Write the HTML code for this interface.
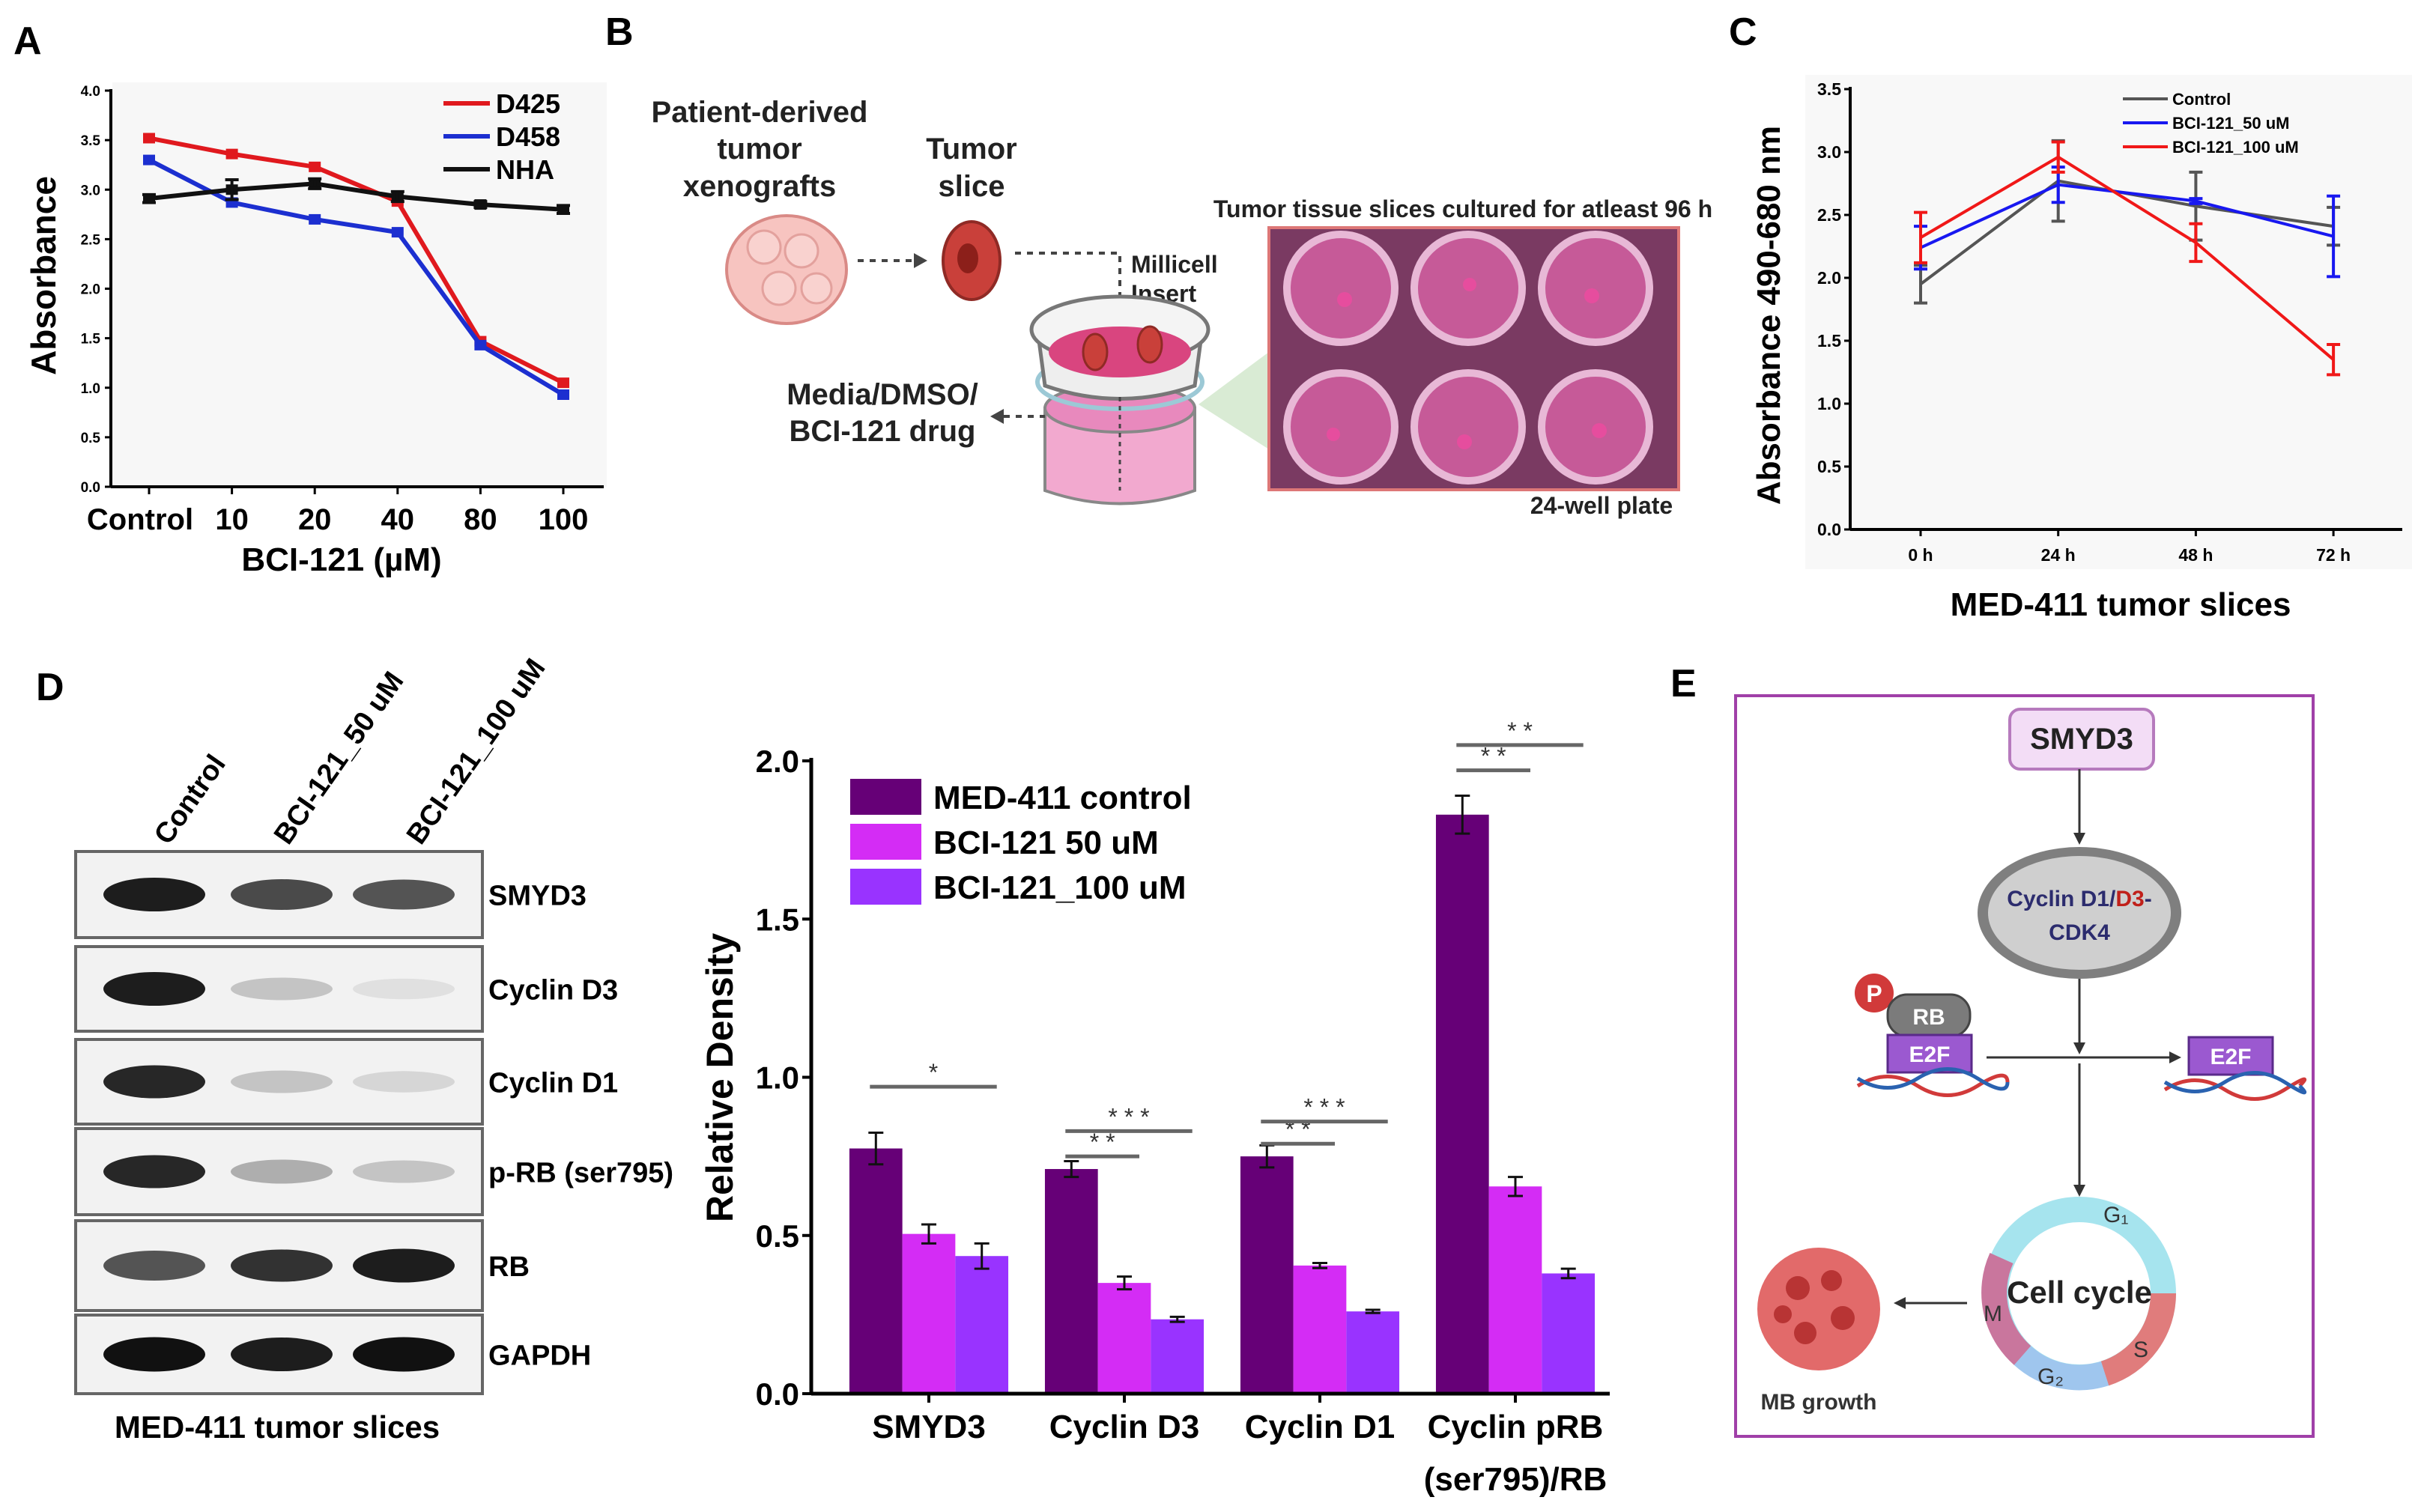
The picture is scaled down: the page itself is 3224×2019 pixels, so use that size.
<!DOCTYPE html>
<html><head><meta charset="utf-8"><title>Figure</title>
<style>
html,body{margin:0;padding:0;background:#fff;}
svg{display:block;font-family:"Liberation Sans",sans-serif;}
.b{font-weight:bold;}
</style></head>
<body>
<svg id="fig" width="3224" height="2019" viewBox="0 0 3224 2019" xmlns="http://www.w3.org/2000/svg">
<rect width="3224" height="2019" fill="#fff"/>
<text x="18" y="72" font-size="52" class="b">A</text>
<text x="808" y="60" font-size="52" class="b">B</text>
<text x="2308" y="60" font-size="52" class="b">C</text>
<text x="48" y="935" font-size="52" class="b">D</text>
<text x="2230" y="930" font-size="52" class="b">E</text>

<g id="chartA"></g>
<g id="chartC"></g>
<g id="chartD"></g>

<g font-weight="bold" fill="#222">
  <text x="1014" y="163" font-size="40" text-anchor="middle">Patient-derived</text>
  <text x="1014" y="212" font-size="40" text-anchor="middle">tumor</text>
  <text x="1014" y="262" font-size="40" text-anchor="middle">xenografts</text>
  <text x="1297" y="212" font-size="40" text-anchor="middle">Tumor</text>
  <text x="1297" y="262" font-size="40" text-anchor="middle">slice</text>
  <text x="1953" y="290" font-size="32" text-anchor="middle">Tumor tissue slices cultured for atleast 96 h</text>
  <text x="1510" y="364" font-size="32">Millicell</text>
  <text x="1510" y="403" font-size="32">Insert</text>
  <text x="1178" y="540" font-size="40" text-anchor="middle">Media/DMSO/</text>
  <text x="1178" y="589" font-size="40" text-anchor="middle">BCI-121 drug</text>
  <text x="2138" y="686" font-size="32" text-anchor="middle">24-well plate</text>
  <g>
    <ellipse cx="1050" cy="360" rx="80" ry="72" fill="#f7c4c0" stroke="#d98a86" stroke-width="4"/>
    <circle cx="1020" cy="330" r="22" fill="#f9d2cf" stroke="#e3a19d" stroke-width="3"/>
    <circle cx="1070" cy="335" r="22" fill="#f9d2cf" stroke="#e3a19d" stroke-width="3"/>
    <circle cx="1040" cy="385" r="22" fill="#f9d2cf" stroke="#e3a19d" stroke-width="3"/>
    <circle cx="1090" cy="385" r="20" fill="#f9d2cf" stroke="#e3a19d" stroke-width="3"/>
  </g>
  <line x1="1145" y1="348" x2="1220" y2="348" stroke="#444" stroke-width="4" stroke-dasharray="8,8"/>
  <polygon points="1220,338 1238,348 1220,358" fill="#444"/>
  <g>
    <ellipse cx="1297" cy="348" rx="38" ry="52" fill="#c9403a" stroke="#8f2a25" stroke-width="4"/>
    <ellipse cx="1292" cy="345" rx="14" ry="20" fill="#8c1f1a"/>
  </g>
  <polyline points="1355,338 1495,338 1495,420" fill="none" stroke="#444" stroke-width="4" stroke-dasharray="8,8"/>
  <g>
    <path d="M1395,545 L1395,655 Q1495,690 1595,655 L1595,545 Z" fill="#f2a9cf" stroke="#888" stroke-width="4"/>
    <ellipse cx="1495" cy="545" rx="100" ry="32" fill="#e889bd" stroke="#888" stroke-width="4"/>
    <ellipse cx="1495" cy="510" rx="110" ry="36" fill="none" stroke="#9cc9d6" stroke-width="6"/>
    <path d="M1385,440 L1395,515 Q1495,550 1595,515 L1605,440" fill="#eee" stroke="#777" stroke-width="5"/>
    <ellipse cx="1495" cy="440" rx="118" ry="44" fill="#f4f4f4" stroke="#777" stroke-width="5"/>
    <ellipse cx="1495" cy="470" rx="95" ry="34" fill="#d9457f"/>
    <ellipse cx="1462" cy="470" rx="16" ry="24" fill="#c9403a" stroke="#8f2a25" stroke-width="3"/>
    <ellipse cx="1535" cy="460" rx="16" ry="24" fill="#c9403a" stroke="#8f2a25" stroke-width="3"/>
    <line x1="1495" y1="530" x2="1495" y2="655" stroke="#444" stroke-width="3" stroke-dasharray="6,6"/>
  </g>
  <line x1="1340" y1="556" x2="1395" y2="556" stroke="#444" stroke-width="4" stroke-dasharray="8,8"/>
  <polygon points="1340,546 1322,556 1340,566" fill="#444"/>
  <polygon points="1600,540 1694,470 1694,600" fill="#cfe6c9" opacity="0.8"/>
  <g>
    <rect x="1694" y="304" width="547" height="350" fill="#7a3a62" stroke="#d77" stroke-width="4"/>
    <g fill="#c65a98" stroke="#e8b8d6" stroke-width="10">
      <circle cx="1790" cy="385" r="72"/><circle cx="1960" cy="385" r="72"/><circle cx="2130" cy="385" r="72"/>
      <circle cx="1790" cy="570" r="72"/><circle cx="1960" cy="570" r="72"/><circle cx="2130" cy="570" r="72"/>
    </g>
    <g fill="#e64d9e"><circle cx="1795" cy="400" r="10"/><circle cx="1962" cy="380" r="9"/><circle cx="2125" cy="395" r="10"/><circle cx="1780" cy="580" r="9"/><circle cx="1955" cy="590" r="10"/><circle cx="2135" cy="575" r="10"/></g>
  </g>
</g>

<g>
  <g font-size="38" font-weight="bold">
    <text transform="translate(225,1130) rotate(-55)">Control</text>
    <text transform="translate(385,1130) rotate(-55)">BCI-121_50 uM</text>
    <text transform="translate(562,1130) rotate(-55)">BCI-121_100 uM</text>
  </g>
  <g id="blots"></g>
  <text x="370" y="1920" font-size="42" font-weight="bold" text-anchor="middle">MED-411 tumor slices</text>
</g>

<g>
  <rect x="2317" y="929" width="771" height="989" fill="#fff" stroke="#a040a8" stroke-width="4"/>
  <rect x="2683" y="947" width="192" height="80" rx="14" fill="#f3ddf6" stroke="#b67abd" stroke-width="4"/>
  <text x="2779" y="1000" font-size="40" font-weight="bold" text-anchor="middle" fill="#222">SMYD3</text>
  <line x1="2776" y1="1027" x2="2776" y2="1118" stroke="#333" stroke-width="3"/>
  <polygon points="2768,1112 2776,1128 2784,1112" fill="#333"/>
  <ellipse cx="2776" cy="1219" rx="136" ry="88" fill="#7f7f7f"/>
  <ellipse cx="2776" cy="1219" rx="122" ry="76" fill="#cfcfcf"/>
  <text x="2776" y="1210" font-size="30" font-weight="bold" text-anchor="middle" fill="#2c2c6e">Cyclin D1/<tspan fill="#c0201a">D3</tspan>-</text>
  <text x="2776" y="1255" font-size="30" font-weight="bold" text-anchor="middle" fill="#2c2c6e">CDK4</text>
  <line x1="2776" y1="1307" x2="2776" y2="1398" stroke="#333" stroke-width="3"/>
  <polygon points="2768,1392 2776,1408 2784,1392" fill="#333"/>
  <circle cx="2502" cy="1326" r="26" fill="#d13a3a"/>
  <text x="2502" y="1338" font-size="32" font-weight="bold" fill="#fff" text-anchor="middle">P</text>
  <rect x="2520" y="1328" width="110" height="56" rx="26" fill="#7b7b7b" stroke="#444" stroke-width="3"/>
  <text x="2575" y="1368" font-size="30" font-weight="bold" fill="#fff" text-anchor="middle">RB</text>
  <rect x="2520" y="1382" width="112" height="50" fill="#9b59d0" stroke="#5a2a8a" stroke-width="3"/>
  <text x="2576" y="1418" font-size="30" font-weight="bold" fill="#fff" text-anchor="middle">E2F</text>
  <path d="M2480,1450 Q2520,1425 2560,1450 T2640,1450 T2680,1445" fill="none" stroke="#d13a3a" stroke-width="5"/>
  <path d="M2480,1440 Q2520,1465 2560,1440 T2640,1440 T2680,1445" fill="none" stroke="#2a62b0" stroke-width="5"/>
  <line x1="2652" y1="1412" x2="2900" y2="1412" stroke="#333" stroke-width="3"/>
  <polygon points="2896,1404 2912,1412 2896,1420" fill="#333"/>
  <rect x="2922" y="1385" width="112" height="50" fill="#9b59d0" stroke="#5a2a8a" stroke-width="3"/>
  <text x="2978" y="1421" font-size="30" font-weight="bold" fill="#fff" text-anchor="middle">E2F</text>
  <path d="M2890,1455 Q2930,1430 2970,1455 T3050,1455 T3070,1450" fill="none" stroke="#d13a3a" stroke-width="5"/>
  <path d="M2890,1445 Q2930,1470 2970,1445 T3050,1445 T3070,1450" fill="none" stroke="#2a62b0" stroke-width="5"/>
  <line x1="2776" y1="1420" x2="2776" y2="1588" stroke="#333" stroke-width="3"/>
  <polygon points="2768,1582 2776,1598 2784,1582" fill="#333"/>
  <g>
    <circle cx="2776" cy="1727" r="112" fill="none" stroke="#a6e4ee" stroke-width="34"/>
    <path d="M2888,1727 A112,112 0 0 1 2810,1834" fill="none" stroke="#e07c7c" stroke-width="34"/>
    <path d="M2810,1834 A112,112 0 0 1 2700,1810" fill="none" stroke="#9fc6ee" stroke-width="34"/>
    <path d="M2700,1810 A112,112 0 0 1 2672,1680" fill="none" stroke="#c9769d" stroke-width="34"/>
    <text x="2776" y="1740" font-size="42" font-weight="bold" text-anchor="middle" fill="#222">Cell cycle</text>
    <text x="2808" y="1632" font-size="30" fill="#333">G₁</text>
    <text x="2848" y="1812" font-size="30" fill="#333">S</text>
    <text x="2720" y="1848" font-size="30" fill="#333">G₂</text>
    <text x="2648" y="1764" font-size="30" fill="#333">M</text>
  </g>
  <line x1="2626" y1="1740" x2="2540" y2="1740" stroke="#333" stroke-width="3"/>
  <polygon points="2544,1732 2528,1740 2544,1748" fill="#333"/>
  <g>
    <circle cx="2428" cy="1748" r="82" fill="#e26a6a"/>
    <g fill="#b83434"><circle cx="2400" cy="1720" r="16"/><circle cx="2445" cy="1710" r="14"/><circle cx="2460" cy="1760" r="16"/><circle cx="2410" cy="1780" r="15"/><circle cx="2380" cy="1755" r="12"/></g>
  </g>
  <text x="2428" y="1882" font-size="30" font-weight="bold" text-anchor="middle" fill="#333">MB growth</text>
</g>

<script>
const aCategories = ['Control','10','20','40','80','100'];
const aD425 = [3.52, 3.36, 3.23, 2.88, 1.47, 1.05];
const aD458 = [3.30, 2.87, 2.70, 2.57, 1.43, 0.93];
const aNHA  = [2.91, 3.00, 3.06, 2.93, 2.85, 2.80];
const aNHAErr = [0.04, 0.10, 0.05, 0.05, 0.03, 0.04];
const aYTicks = ['0.0','0.5','1.0','1.5','2.0','2.5','3.0','3.5','4.0'];
const cCategories = ['0 h','24 h','48 h','72 h'];
const cControl = [1.95, 2.77, 2.57, 2.41];
const cControlErr = [0.15, 0.32, 0.27, 0.15];
const c50 = [2.24, 2.74, 2.61, 2.33];
const c50Err = [0.17, 0.14, 0.02, 0.32];
const c100 = [2.32, 2.96, 2.28, 1.35];
const c100Err = [0.20, 0.12, 0.15, 0.12];
const cYTicks = ['0.0','0.5','1.0','1.5','2.0','2.5','3.0','3.5'];
const dCategories = ['SMYD3','Cyclin D3','Cyclin D1','Cyclin pRB'];
const dControl = [0.775, 0.71, 0.75, 1.83];
const dControlErr = [0.05, 0.025, 0.035, 0.06];
const d50 = [0.505, 0.35, 0.405, 0.655];
const d50Err = [0.03, 0.02, 0.008, 0.03];
const d100 = [0.435, 0.235, 0.26, 0.38];
const d100Err = [0.04, 0.008, 0.005, 0.015];
const dYTicks = ['0.0','0.5','1.0','1.5','2.0'];
const dSigLabels = ['*','**','***','**','***','**','**'];
const dSigValues = [0.97, 0.75, 0.83, 0.79, 0.86, 1.97, 2.05];
const dSigGroups = [0, 1, 1, 2, 2, 3, 3];
const dSigSpan = [2, 1, 2, 1, 2, 1, 2];
const blotNames = ['SMYD3','Cyclin D3','Cyclin D1','p-RB (ser795)','RB','GAPDH'];
const blotIntensity = [[0.95,0.75,0.7],[0.95,0.2,0.08],[0.9,0.2,0.12],[0.9,0.3,0.2],[0.7,0.85,0.95],[1,0.95,1]];

const NS = 'http://www.w3.org/2000/svg';
function mk(parent, tag, attrs, txt){
  const e = document.createElementNS(NS, tag);
  for (const k in attrs) e.setAttribute(k, attrs[k]);
  if (txt !== undefined) e.textContent = txt;
  parent.appendChild(e);
  return e;
}
function errbar(g, x, y1, y2, cap, color, w){
  mk(g,'line',{x1:x,x2:x,y1:y1,y2:y2,stroke:color,'stroke-width':w});
  mk(g,'line',{x1:x-cap,x2:x+cap,y1:y1,y2:y1,stroke:color,'stroke-width':w});
  mk(g,'line',{x1:x-cap,x2:x+cap,y1:y2,y2:y2,stroke:color,'stroke-width':w});
}

(function(){
  const g = document.getElementById('chartA');
  const x0=148, xEnd=806, yTop=121, yBot=650;
  const xA = i => 199 + i*110.6;
  const yA = v => yBot - v*(yBot-yTop)/4;
  mk(g,'rect',{x:150,y:110,width:660,height:540,fill:'#f7f7f7'});
  mk(g,'line',{x1:x0,x2:x0,y1:yTop-2,y2:yBot,stroke:'#000','stroke-width':4});
  mk(g,'line',{x1:x0,x2:xEnd,y1:yBot,y2:yBot,stroke:'#000','stroke-width':4});
  aYTicks.forEach((t,i)=>{
    const y=yA(parseFloat(t));
    mk(g,'line',{x1:x0-8,x2:x0,y1:y,y2:y,stroke:'#000','stroke-width':3});
    const e=mk(g,'text',{x:x0-14,y:y+7,'font-size':19,'font-weight':'bold','text-anchor':'end'},t);
    
    
  });
  aCategories.forEach((c,i)=>{
    mk(g,'line',{x1:xA(i),x2:xA(i),y1:yBot,y2:yBot+10,stroke:'#000','stroke-width':3});
    const e=mk(g,'text',{x:xA(i)+(i===0?-12:0),y:707,'font-size':40,'font-weight':'bold','text-anchor':'middle'},c);
    
    
  });
  const xt=mk(g,'text',{x:456,y:762,'font-size':44,'font-weight':'bold','text-anchor':'middle'},'BCI-121 (µM)');
  
  
  const yt=mk(g,'text',{transform:'translate(74,368) rotate(-90)','font-size':46,'font-weight':'bold','text-anchor':'middle'},'Absorbance');
  
  
  const series=[[aD425,'#e0191e','D425',null],[aD458,'#1c2fd0','D458',null],[aNHA,'#111','NHA',aNHAErr]];
  series.forEach((s,si)=>{
    const pts=s[0].map((v,i)=>xA(i)+','+yA(v)).join(' ');
    const pl=mk(g,'polyline',{points:pts,fill:'none',stroke:s[1],'stroke-width':6});
    
    
    s[0].forEach((v,i)=>{
      mk(g,'rect',{x:xA(i)-8,y:yA(v)-7,width:16,height:14,fill:s[1]});
      if(s[3]) errbar(g,xA(i),yA(v-s[3][i]),yA(v+s[3][i]),9,s[1],4);
    });
    const ly=138+si*44;
    mk(g,'line',{x1:592,x2:654,y1:ly,y2:ly,stroke:s[1],'stroke-width':6});
    const lt=mk(g,'text',{x:662,y:ly+13,'font-size':36,'font-weight':'bold'},s[2]);
    
    
  });
})();

(function(){
  const g=document.getElementById('chartC');
  const x0=2470, xEnd=3207, yTop=119, yBot=707;
  const xC = i => 2564 + i*183.7;
  const yC = v => yBot - v*(yBot-yTop)/3.5;
  mk(g,'rect',{x:2410,y:100,width:810,height:660,fill:'#f8f8f8'});
  mk(g,'line',{x1:x0,x2:x0,y1:yTop-3,y2:yBot,stroke:'#000','stroke-width':4});
  mk(g,'line',{x1:x0,x2:xEnd,y1:yBot,y2:yBot,stroke:'#000','stroke-width':4});
  cYTicks.forEach(t=>{
    const y=yC(parseFloat(t));
    mk(g,'line',{x1:x0-8,x2:x0,y1:y,y2:y,stroke:'#000','stroke-width':3});
    const e=mk(g,'text',{x:x0-12,y:y+8,'font-size':23,'font-weight':'bold','text-anchor':'end'},t);
    
    
  });
  cCategories.forEach((c,i)=>{
    mk(g,'line',{x1:xC(i),x2:xC(i),y1:yBot,y2:yBot+9,stroke:'#000','stroke-width':3});
    const e=mk(g,'text',{x:xC(i),y:749,'font-size':23,'font-weight':'bold','text-anchor':'middle'},c);
    
    
  });
  const xt=mk(g,'text',{x:2831,y:822,'font-size':44,'font-weight':'bold','text-anchor':'middle'},'MED-411 tumor slices');
  
  
  const yt=mk(g,'text',{transform:'translate(2376,421) rotate(-90)','font-size':44,'font-weight':'bold','text-anchor':'middle'},'Absorbance 490-680 nm');
  
  
  const series=[[cControl,cControlErr,'#555','Control'],[c50,c50Err,'#1818f0','BCI-121_50 uM'],[c100,c100Err,'#f01818','BCI-121_100 uM']];
  series.forEach((s,si)=>{
    const pts=s[0].map((v,i)=>xC(i)+','+yC(v)).join(' ');
    const pl=mk(g,'polyline',{points:pts,fill:'none',stroke:s[2],'stroke-width':4});
    
    
    s[0].forEach((v,i)=>errbar(g,xC(i),yC(v-s[1][i]),yC(v+s[1][i]),9,s[2],4));
    const ly=132+si*32;
    mk(g,'line',{x1:2834,x2:2894,y1:ly,y2:ly,stroke:s[2],'stroke-width':4});
    const lt=mk(g,'text',{x:2900,y:ly+8,'font-size':22,'font-weight':'bold'},s[3]);
    
    
  });
})();

(function(){
  const g=document.getElementById('chartD');
  const x0=1083, xEnd=2149, yTop=1016, yBot=1861;
  const yD = v => yBot - v*(yBot-yTop)/2;
  const xD = gi => 1240 + gi*261;
  const bw=70.7;
  const colors=['#660077','#d42cf5','#9933ff'];
  const vals=[dControl,d50,d100], errs=[dControlErr,d50Err,d100Err];
  vals.forEach((arr,k)=>arr.forEach((v,gi)=>{
    const cx=xD(gi)+(k-1)*bw;
    const r=mk(g,'rect',{x:cx-bw/2,y:yD(v),width:bw,height:yBot-yD(v),fill:colors[k]});
    
    
    errbar(g,cx,yD(v-errs[k][gi]),yD(v+errs[k][gi]),10,'#111',3);
  }));
  mk(g,'line',{x1:x0,x2:x0,y1:yTop-4,y2:yBot,stroke:'#000','stroke-width':5});
  mk(g,'line',{x1:x0,x2:xEnd,y1:yBot,y2:yBot,stroke:'#000','stroke-width':5});
  dYTicks.forEach(t=>{
    const y=yD(parseFloat(t));
    mk(g,'line',{x1:x0-12,x2:x0,y1:y,y2:y,stroke:'#000','stroke-width':4});
    const e=mk(g,'text',{x:x0-16,y:y+15,'font-size':42,'font-weight':'bold','text-anchor':'end'},t);
    
    
  });
  dCategories.forEach((c,gi)=>{
    mk(g,'line',{x1:xD(gi),x2:xD(gi),y1:yBot,y2:yBot+12,stroke:'#000','stroke-width':4});
    const e=mk(g,'text',{x:xD(gi),y:1920,'font-size':44,'font-weight':'bold','text-anchor':'middle'},c);
    
    
  });
  const e2=mk(g,'text',{x:xD(3),y:1990,'font-size':44,'font-weight':'bold','text-anchor':'middle'},'(ser795)/RB');
  
  
  const yt=mk(g,'text',{transform:'translate(978,1439) rotate(-90)','font-size':50,'font-weight':'bold','text-anchor':'middle'},'Relative Density');
  
  
  const names=['MED-411 control','BCI-121 50 uM','BCI-121_100 uM'];
  names.forEach((n,k)=>{
    const y=1040+k*60;
    mk(g,'rect',{x:1135,y:y,width:95,height:48,fill:colors[k]});
    const lt=mk(g,'text',{x:1246,y:y+40,'font-size':44,'font-weight':'bold'},n);
    
    
  });
  dSigLabels.forEach((s,i)=>{
    const gi=dSigGroups[i];
    const xs=xD(gi)-bw-8, xe=xD(gi)-bw+dSigSpan[i]*bw+20;
    const y=yD(dSigValues[i]);
    const ln=mk(g,'line',{x1:xs,x2:xe,y1:y,y2:y,stroke:'#666','stroke-width':5});
    
    
    mk(g,'text',{x:(xs+xe)/2,y:y-8,'font-size':32,'text-anchor':'middle',fill:'#333'},s.split('').join(' '));
  });
})();

(function(){
  const g=document.getElementById('blots');
  const tops=[1137,1264,1388,1507,1630,1756], bots=[1252,1377,1501,1622,1750,1861];
  const lanes=[206,376,539];
  blotNames.forEach((n,i)=>{
    const r=mk(g,'rect',{x:101,y:tops[i],width:543,height:bots[i]-tops[i],fill:'#f2f2f2',stroke:'#666','stroke-width':4});
    
    
    const cy=(tops[i]+bots[i])/2;
    blotIntensity[i].forEach((a,l)=>{
      mk(g,'ellipse',{cx:lanes[l],cy:cy,rx:68,ry:13+10*a,fill:'#111',opacity:a});
    });
    const t=mk(g,'text',{x:652,y:cy+14,'font-size':38,'font-weight':'bold'},n);
    
    
  });
})();
</script>
</svg>
</body></html>
